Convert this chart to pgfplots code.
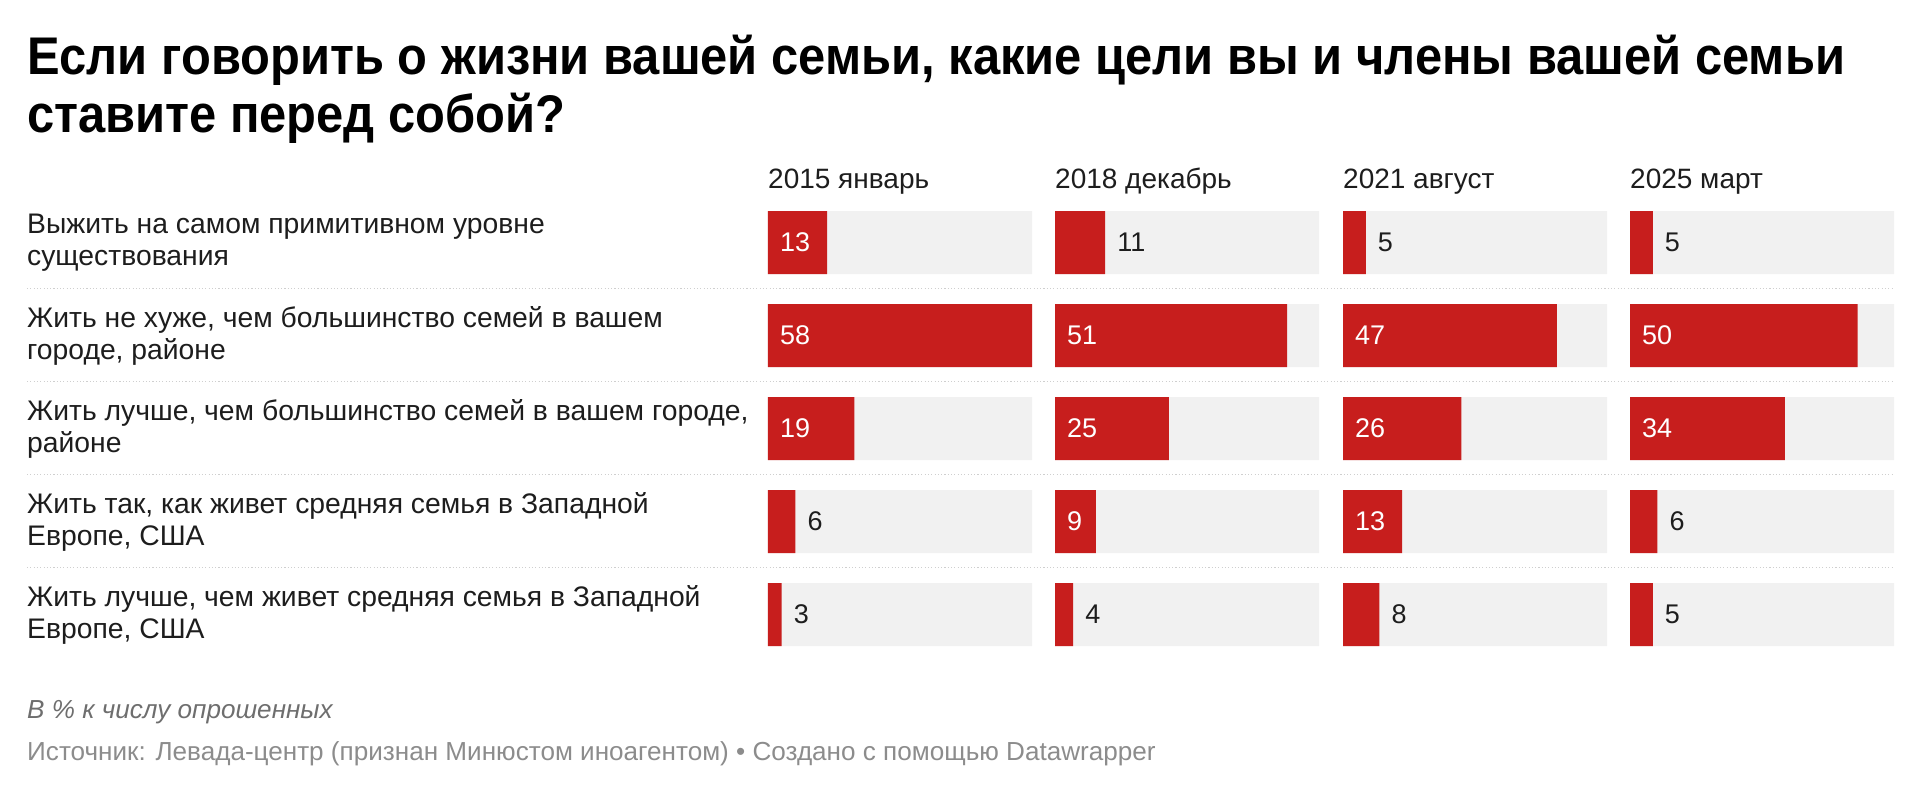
\documentclass[border=0pt]{standalone}
\usepackage{fontspec}
\setmainfont{Liberation Sans}
\newfontfamily\titlefont{Liberation Sans}[FakeStretch=0.922]
\usepackage{pgfplots}
\pgfplotsset{compat=1.18}
\usepackage{pgfplotstable}
\definecolor{barred}{HTML}{C71E1D}
\definecolor{track}{HTML}{F1F1F1}
\definecolor{txt}{HTML}{1D1D1D}
\definecolor{note}{HTML}{6E6E6E}
\definecolor{src}{HTML}{8C8C8C}
\definecolor{sep}{HTML}{CFCFCF}

\pgfplotstableread{
row track y2015 y2018 y2021 y2025
0 58 13 11 5 5
1 58 58 51 47 50
2 58 19 25 26 34
3 58 6 9 13 6
4 58 3 4 8 5
}\data

\pgfplotsset{
  panel/.style={
    scale only axis, width=264pt, height=465pt,
    xmin=0, xmax=58, ymin=-0.5, ymax=4.5, y dir=reverse,
    axis line style={draw=none}, xtick=\empty, ytick=\empty, major tick length=0pt,
    clip=false, /pgf/number format/assume math mode=true,
    title style={anchor=base west, at={(0,1)}, yshift=1.5pt, inner sep=0pt,
      font=\fontsize{28}{32}\selectfont, text=txt},
  },
  vallab/.style={draw=none, mark=none, point meta=explicit,
    nodes near coords={\pgfmathprintnumber[assume math mode=true]{\pgfplotspointmeta}},
    nodes near coords style={anchor=west, xshift=12pt, inner sep=0pt,
      font=\fontsize{27}{32}\selectfont, text=#1}},
}
% labels that fit go inside the bar (white), the others after it (dark)
\newcommand\panel[4]{%
  \begin{axis}[panel, at={(#1pt,-196pt)}, anchor=north west, title={#3}, #4]
  \addplot[xbar, bar width=63pt, bar shift=0pt, fill=track, draw=none] table[x=track, y=row]{\data};
  \addplot[xbar, bar width=63pt, bar shift=0pt, fill=barred, draw=none] table[x=#2, y=row]{\data};
  \addplot[vallab=white, restrict expr to domain={\thisrow{#2}==11 ? 0 : \thisrow{#2}}{8.5:1000}]
    table[x expr=0, y=row, meta=#2]{\data};
  \addplot[vallab=txt, restrict expr to domain={\thisrow{#2}==11 ? 0 : \thisrow{#2}}{0:8.5}]
    table[x=#2, y=row, meta=#2]{\data};
  \end{axis}
}

\begin{document}
\begin{tikzpicture}
\useasboundingbox (0,0) rectangle (1920pt,-794pt);
\node[anchor=base west, inner sep=0pt, text=black] at (27pt,-75pt)
  {\fontsize{53}{57}\selectfont\titlefont\bfseries Если говорить о жизни вашей семьи, какие цели вы и члены вашей семьи};
\node[anchor=base west, inner sep=0pt, text=black] at (27pt,-133pt)
  {\fontsize{53}{57}\selectfont\titlefont\bfseries ставите перед собой?};

\foreach \yy in {288.5,381.5,474.5,567.5}
  \draw[sep, line width=1.1pt, dash pattern=on 1.1pt off 2.2pt] (27pt,-\yy pt) -- (1894pt,-\yy pt);

\panel{768}{y2015}{2015 январь}{ytick={0,1,2,3,4},
  yticklabels={{Выжить на самом примитивном уровне\\существования},
    {Жить не хуже, чем большинство семей в вашем\\городе, районе},
    {Жить лучше, чем большинство семей в вашем городе,\\районе},
    {Жить так, как живет средняя семья в Западной\\Европе, США},
    {Жить лучше, чем живет средняя семья в Западной\\Европе, США}},
  yticklabel style={anchor=west, align=left, inner sep=0pt, xshift=-741pt,
    font=\fontsize{28.3}{32}\selectfont, text=txt}}
\panel{1055}{y2018}{2018 декабрь}{}
\panel{1343}{y2021}{2021 август}{}
\panel{1630}{y2025}{2025 март}{}

\node[anchor=base west, inner sep=0pt, text=note] at (27pt,-718pt)
  {\fontsize{26.1}{30}\selectfont\itshape В \% к числу опрошенных};
\node[anchor=base west, inner sep=0pt, text=src] at (27pt,-760pt)
  {\fontsize{26.1}{30}\selectfont Источник: Левада-центр (признан Минюстом иноагентом) • Создано с помощью Datawrapper};
\end{tikzpicture}
\end{document}
